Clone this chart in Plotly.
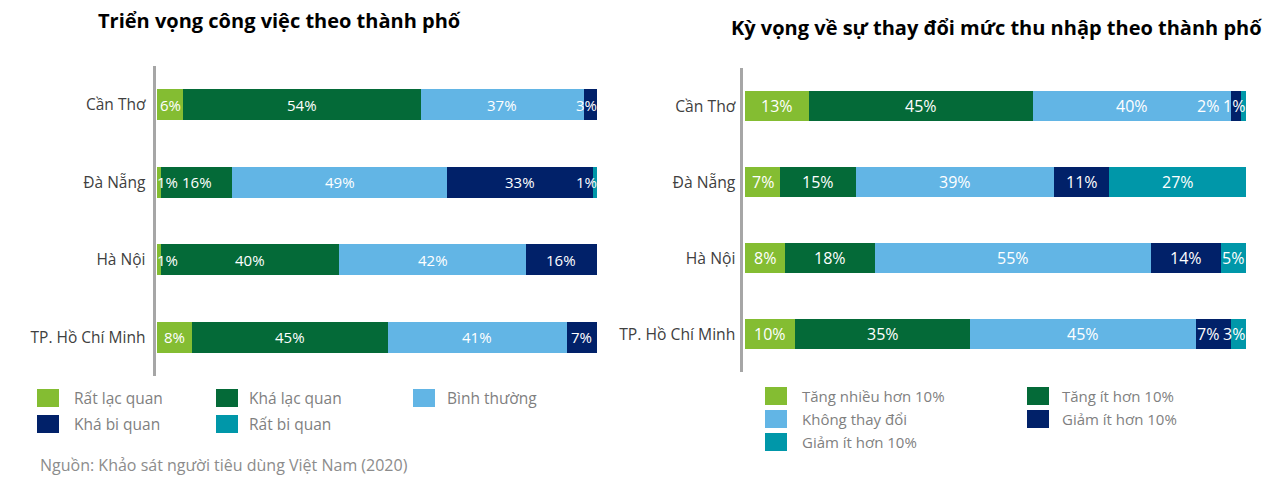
import plotly.graph_objects as go

# ---------------- data ----------------
cities = ["Cần Thơ", "Đà Nẵng", "Hà Nội", "TP. Hồ Chí Minh"]

job_title = "Triển vọng công việc theo thành phố"
job_names = ["Rất lạc quan", "Khá lạc quan", "Bình thường", "Khá bi quan", "Rất bi quan"]
job_very_optimistic = [6, 1, 1, 8]
job_fairly_optimistic = [54, 16, 40, 45]
job_normal = [37, 49, 42, 41]
job_fairly_pessimistic = [3, 33, 16, 7]
job_very_pessimistic = [0, 1, 0, 0]

inc_title = "Kỳ vọng về sự thay đổi mức thu nhập theo thành phố"
inc_names = ["Tăng nhiều hơn 10%", "Tăng ít hơn 10%", "Không thay đổi", "Giảm ít hơn 10%", "Giảm ít hơn 10%"]
inc_up_more = [13, 7, 8, 10]
inc_up_less = [45, 15, 18, 35]
inc_same = [40, 39, 55, 45]
inc_down_less = [2, 11, 14, 7]
inc_down_more = [1, 27, 5, 3]

source_note = "Nguồn: Khảo sát người tiêu dùng Việt Nam (2020)"

# ---------------- style ----------------
OFF = 8                      # page body margin
W, H = 1284 - 2 * OFF, 486 - 2 * OFF
colors = ["#84BD32", "#046A38", "#62B5E5", "#012169", "#0097A9"]
FONT = "Open Sans"

job_series = [job_very_optimistic, job_fairly_optimistic, job_normal,
              job_fairly_pessimistic, job_very_pessimistic]
inc_series = [inc_up_more, inc_up_less, inc_same, inc_down_less, inc_down_more]

# plot areas in window pixels (left, right, top, bottom)
L_AREA = (155.5, 597, 66, 376)
R_AREA = (742.5, 1246, 68, 372)
L_PAD_UNITS = -0.34
R_PAD_UNITS = -0.5


def px_x(p):
    return (p - OFF) / W


def px_y(p):
    return 1 - (p - OFF) / H


fig = go.Figure()

for series, names, xa, ya in [(job_series, job_names, "x", "y"),
                              (inc_series, inc_names, "x2", "y2")]:
    for vals, name, col in zip(series, names, colors):
        fig.add_trace(go.Bar(
            x=vals, y=cities, name=name, orientation="h",
            marker=dict(color=col, line=dict(width=0)),
            xaxis=xa, yaxis=ya, showlegend=False, hoverinfo="x+y+name",
        ))


def text_w(s, size):
    em = 0.0
    for ch in s:
        em += 0.824 if ch == "%" else 0.572
    return em * size + 1


def add_labels(series, xref, yref, area, pad_units, size):
    x0, x1 = area[0], area[1]
    ppu = (x1 - x0) / (100 - pad_units)
    gap = 3 / ppu
    for r, city in enumerate(cities):
        vals = [s[r] for s in series]
        tot = float(sum(vals))
        items = []
        start = 0.0
        for v in vals:
            p = v / tot * 100
            if v > 0:
                t = f"{v}%"
                w = text_w(t, size) / ppu
                items.append([start + p / 2, w, t])
            start += p
        for it in items:
            it[0] = min(max(it[0], it[1] / 2), 100 - it[1] / 2)
        for i in range(1, len(items)):
            lo = items[i - 1][0] + (items[i - 1][1] + items[i][1]) / 2 + gap
            items[i][0] = min(max(items[i][0], lo), 100 - items[i][1] / 2)
        for i in range(len(items) - 2, -1, -1):
            hi = items[i + 1][0] - (items[i + 1][1] + items[i][1]) / 2 - gap
            items[i][0] = min(items[i][0], hi)
        for c, w, t in items:
            fig.add_annotation(x=c, y=city, xref=xref, yref=yref, text=t,
                               showarrow=False, xanchor="center", yanchor="middle",
                               font=dict(family=FONT, size=size, color="white"))


add_labels(job_series, "x", "y", L_AREA, L_PAD_UNITS, 15)
add_labels(inc_series, "x2", "y2", R_AREA, R_PAD_UNITS, 16)


def axis_pair(area, pad_units, tick_size, standoff):
    xd = [px_x(area[0]), px_x(area[1])]
    yd = [px_y(area[3]), px_y(area[2])]
    xa = dict(domain=xd, range=[pad_units, 100], visible=False, fixedrange=True)
    ya = dict(domain=yd, type="category", categoryorder="array", categoryarray=cities,
              range=[3.5, -0.5], showline=True, linecolor="#A6A6A6", linewidth=3,
              showgrid=False, zeroline=False, ticks="", ticklabelstandoff=standoff,
              tickfont=dict(family=FONT, size=tick_size, color="#404040"), fixedrange=True)
    return xa, ya


xa1, ya1 = axis_pair(L_AREA, L_PAD_UNITS, 15.5, 4)
xa2, ya2 = axis_pair(R_AREA, R_PAD_UNITS, 15.7, 1)
ya1["anchor"] = "x"
xa1["anchor"] = "y"
ya2["anchor"] = "x2"
xa2["anchor"] = "y2"

fig.update_layout(
    width=W, height=H, margin=dict(l=0, r=0, t=0, b=0),
    paper_bgcolor="white", plot_bgcolor="white",
    barmode="stack", barnorm="percent", bargap=0.605,
    xaxis=xa1, yaxis=ya1, xaxis2=xa2, yaxis2=ya2,
    showlegend=False,
    font=dict(family=FONT),
)

# titles
fig.add_annotation(x=px_x(279.5), y=px_y(20), xref="paper", yref="paper",
                   text=f"<b>{job_title}</b>", showarrow=False,
                   xanchor="center", yanchor="middle",
                   font=dict(family=FONT, size=20, color="#000000"))
fig.add_annotation(x=px_x(996), y=px_y(28), xref="paper", yref="paper",
                   text=f"<b>{inc_title}</b>", showarrow=False,
                   xanchor="center", yanchor="middle",
                   font=dict(family=FONT, size=20, color="#000000"))


# manual legends
def legend(names, positions, size):
    for name, col, (sx, tx, cy) in zip(names, colors, positions):
        fig.add_shape(type="rect", xref="paper", yref="paper",
                      x0=px_x(sx), x1=px_x(sx + 22), y0=px_y(cy + 9), y1=px_y(cy - 9),
                      fillcolor=col, line=dict(width=0))
        fig.add_annotation(x=px_x(tx), y=px_y(cy), xref="paper", yref="paper",
                           text=name, showarrow=False, xanchor="left", yanchor="middle",
                           font=dict(family=FONT, size=size, color="#7F7F7F"))


legend(job_names, [(37, 72, 398), (216, 247, 398), (413, 445, 398),
                   (37, 72, 424), (216, 247, 424)], 15.5)
legend(inc_names, [(765, 800, 396), (1027, 1060, 396), (765, 800, 419),
                   (1027, 1060, 419), (765, 800, 442)], 15)

fig.add_annotation(x=px_x(38), y=px_y(465), xref="paper", yref="paper",
                   text=source_note, showarrow=False, xanchor="left", yanchor="middle",
                   font=dict(family=FONT, size=16, color="#8C8C8C"))

fig.write_html("out.html")
